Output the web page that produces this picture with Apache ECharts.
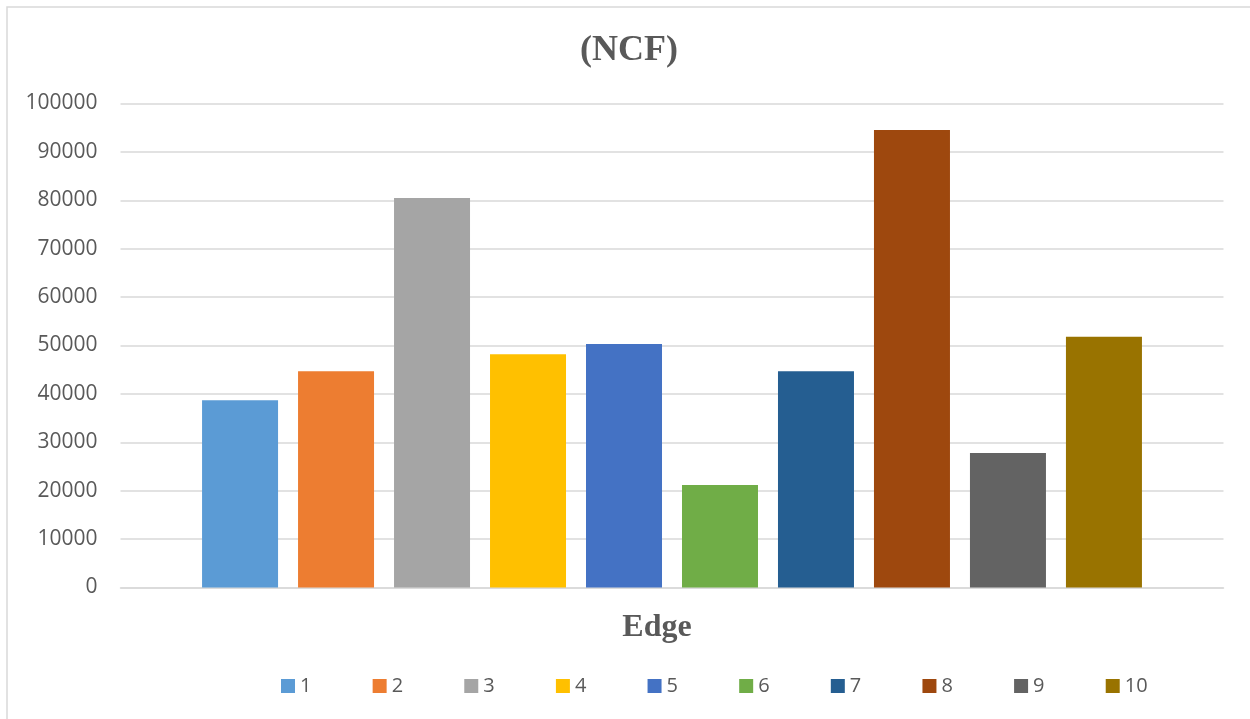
<!DOCTYPE html>
<html>
<head>
<meta charset="utf-8">
<title>(NCF)</title>
<script src="https://cdn.jsdelivr.net/npm/echarts@6/dist/echarts.min.js"></script>
<style>
  html, body { margin: 0; padding: 0; background: #ffffff; }
  #chart { width: 1250px; height: 719px; }
</style>
</head>
<body>
<div id="chart"></div>
<script>
// Single category on the x axis; each edge is its own series.
const categories = [''];
const seriesNames = ['1', '2', '3', '4', '5', '6', '7', '8', '9', '10'];
const ncfValues = [38700, 44700, 80500, 48200, 50300, 21200, 44700, 94500, 27800, 51800];
const seriesColors = ['#5B9BD5', '#ED7D31', '#A5A5A5', '#FFC000', '#4472C4',
                      '#70AD47', '#255E91', '#9E480E', '#636363', '#997300'];
const yTicks = { min: 0, max: 100000, interval: 10000 };

const textColor = '#595959';
const gridColor = '#d9d9d9';

const chart = echarts.init(document.getElementById('chart'), null, { renderer: 'canvas' });

const series = seriesNames.map((name, i) => ({
  name: name,
  type: 'bar',
  data: [ncfValues[i]],
  barWidth: 76,
  barGap: '26.3%',
  itemStyle: { color: seriesColors[i] },
  emphasis: { disabled: true }
}));

chart.setOption({
  animation: false,
  backgroundColor: '#ffffff',
  color: seriesColors,
  title: {
    text: '(NCF)',
    left: 580,
    top: 33,
    padding: 0,
    textStyle: {
      fontFamily: 'Liberation Serif',
      fontWeight: 'bold',
      fontSize: 36,
      color: textColor
    }
  },
  legend: {
    data: seriesNames,
    left: 281,
    top: 676,
    padding: 0,
    itemWidth: 14,
    itemHeight: 14,
    itemGap: 61.2,
    icon: 'rect',
    textStyle: {
      fontFamily: 'Open Sans',
      fontSize: 20,
      color: textColor
    }
  },
  grid: {
    left: 120.5,
    right: 26.5,
    top: 103.5,
    bottom: 131.5,
    containLabel: false
  },
  xAxis: {
    type: 'category',
    data: categories,
    name: 'Edge',
    nameLocation: 'middle',
    nameGap: 24,
    nameTextStyle: {
      fontFamily: 'Liberation Serif',
      fontWeight: 'bold',
      fontSize: 32,
      color: textColor,
      padding: [0, 30, 0, 0]
    },
    axisLine: { show: true, lineStyle: { color: gridColor, width: 1.5 } },
    axisTick: { show: false },
    axisLabel: { show: false }
  },
  yAxis: {
    type: 'value',
    min: yTicks.min,
    max: yTicks.max,
    interval: yTicks.interval,
    axisLine: { show: false },
    axisTick: { show: false },
    axisLabel: {
      margin: 23,
      fontFamily: 'Open Sans',
      fontSize: 21,
      color: textColor,
      formatter: (v) => String(v)
    },
    splitLine: { lineStyle: { color: gridColor, width: 1.5 } }
  },
  graphic: [{
    type: 'rect',
    shape: { x: 7, y: 7, width: 1260, height: 730 },
    style: { fill: 'none', stroke: gridColor, lineWidth: 1.5 },
    silent: true,
    z: -1
  }],
  series: series
});
</script>
</body>
</html>
